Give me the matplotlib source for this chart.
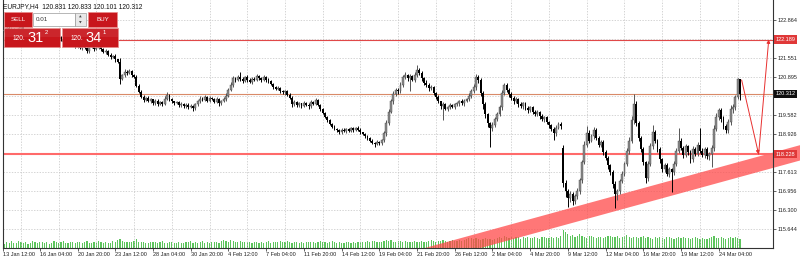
import matplotlib
matplotlib.use('Agg')
import matplotlib.pyplot as plt
from matplotlib.patches import Rectangle, Polygon
from matplotlib.transforms import blended_transform_factory
import numpy as np

plt.rcParams['font.family'] = ['Liberation Sans', 'DejaVu Sans']

# ---- data ----
symbol = 'EURJPY,H4'
last_ohlc = [120.831, 120.833, 120.101, 120.312]

close = [
    122.52, 122.60, 122.48, 122.55, 122.41, 122.47, 122.58, 122.63, 122.50, 122.44,
    122.38, 122.46, 122.35, 122.29, 122.40, 122.33, 122.25, 122.31, 122.22, 122.28,
    122.35, 122.24, 122.18, 122.26, 122.20, 122.12, 122.19, 122.08, 122.15, 122.02,
    121.95, 122.04, 121.90, 121.97, 121.88, 121.79, 121.92, 121.96, 121.85, 121.90,
    121.99, 121.87, 121.75, 121.80, 121.66, 121.58, 121.62, 121.50, 121.42, 120.82,
    120.95, 121.08, 121.02, 121.10, 120.98, 120.90, 120.60, 120.38, 120.22, 120.10,
    120.18, 120.05, 120.12, 119.98, 120.08, 119.95, 120.02, 119.96, 120.15, 120.28,
    120.12, 120.05, 119.98, 120.03, 119.92, 119.97, 119.88, 119.94, 119.85, 119.90,
    119.82, 119.95, 120.05, 120.15, 120.10, 120.20, 120.08, 120.16, 120.12, 120.04,
    120.14, 119.98, 120.06, 120.12, 120.25, 120.45, 120.62, 120.85, 120.78, 120.90,
    120.82, 120.75, 120.88, 120.80, 120.72, 120.84, 120.79, 120.92, 120.85, 120.78,
    120.88, 120.80, 120.74, 120.66, 120.55, 120.49, 120.52, 120.41, 120.36, 120.40,
    120.28, 120.18, 119.95, 120.02, 119.92, 119.98, 119.90, 120.00, 119.94, 119.88,
    120.02, 119.97, 120.10, 119.92, 119.78, 119.65, 119.52, 119.40, 119.28, 119.18,
    119.10, 119.05, 118.98, 119.08, 119.02, 119.10, 119.04, 119.12, 119.06, 119.14,
    119.08, 118.98, 118.92, 118.85, 118.78, 118.70, 118.62, 118.58, 118.66, 118.60,
    118.72, 118.95, 119.30, 119.70, 120.05, 120.30, 120.45, 120.40, 120.62, 120.88,
    120.95, 120.85, 120.92, 120.80, 120.98, 121.15, 121.05, 120.85, 120.70, 120.62,
    120.50, 120.55, 120.35, 120.20, 120.05, 119.88, 119.95, 119.80, 119.85, 119.92,
    119.86, 119.95, 119.98, 120.05, 119.99, 120.08, 120.12, 120.25, 120.40, 120.55,
    120.90, 120.80, 120.35, 119.95, 119.60, 119.30, 119.12, 119.25, 119.45, 119.62,
    119.85, 120.35, 120.62, 120.45, 120.30, 120.18, 120.05, 120.12, 119.95, 119.88,
    119.98, 119.82, 119.75, 119.85, 119.70, 119.62, 119.68, 119.55, 119.45, 119.50,
    119.35, 119.22, 119.10, 118.95, 119.15, 119.28, 119.20, 117.25, 116.95, 116.70,
    116.85, 116.62, 116.78, 116.95, 117.35, 117.95, 118.55, 118.95, 118.70, 118.85,
    119.05, 118.80, 118.55, 118.65, 118.30, 118.10, 117.85, 117.60, 117.20, 116.85,
    116.95, 117.30, 117.55, 117.90, 118.35, 118.70, 119.40, 119.95, 119.30, 118.80,
    118.40, 117.95, 117.40, 117.90, 118.50, 119.00, 118.70, 118.40, 118.05, 117.70,
    117.85, 117.55, 117.70, 117.60, 117.90, 118.35, 118.70, 118.45, 118.20, 118.50,
    118.30, 118.05, 118.40, 118.25, 118.55, 118.35, 118.20, 118.40, 118.15, 118.25,
    118.45, 119.10, 119.50, 119.75, 119.45, 119.20, 119.05, 119.35, 119.80, 119.85,
    120.20, 120.83, 120.312,
]
# opens follow the previous close except at these bars (first bar, weekend gap)
gap_open = {0: 122.50, 237: 118.45}

# wick lengths above / below the body, in hundredths of a yen
hi_wick = [
    5, 8, 4, 6, 3, 7, 9, 5, 4, 6,  3, 5, 7, 4, 6, 3, 5, 8, 4, 6,
    7, 3, 5, 6, 4, 3, 7, 5, 4, 6,  5, 8, 4, 6, 3, 5, 7, 9, 4, 6,
    8, 5, 4, 6, 3, 5, 4, 6, 3, 12,  6, 9, 4, 7, 5, 3, 8, 4, 6, 5,
    4, 7, 5, 3, 6, 4, 5, 3, 8, 10,  4, 6, 3, 5, 4, 6, 3, 5, 4, 7,
    3, 6, 5, 8, 4, 6, 3, 7, 5, 4,  6, 3, 5, 7, 8, 6, 9, 7, 5, 8,
    16, 6, 4, 8, 5, 7, 4, 9, 5, 6,  8, 4, 5, 6, 4, 5, 7, 3, 5, 6,
    4, 5, 6, 8, 4, 5, 3, 6, 4, 5,  7, 5, 8, 4, 3, 5, 4, 3, 5, 4,
    6, 3, 5, 4, 6, 3, 5, 4, 6, 3,  5, 4, 3, 5, 4, 3, 5, 4, 6, 3,
    5, 8, 10, 9, 7, 12, 8, 6, 10, 9,  12, 6, 8, 5, 10, 16, 7, 6, 5, 8,
    6, 8, 5, 4, 6, 3, 7, 5, 4, 6,  5, 4, 6, 5, 7, 4, 6, 8, 9, 12,
    10, 8, 6, 5, 7, 4, 5, 9, 6, 8,  7, 10, 6, 8, 5, 7, 6, 8, 5, 7,
    6, 5, 7, 4, 6, 5, 7, 4, 6, 5,  6, 4, 5, 7, 8, 6, 5, 8, 10, 8,
    9, 7, 8, 10, 6, 9, 12, 25, 10, 8,  12, 9, 7, 8, 6, 9, 7, 5, 8, 10,
    6, 8, 9, 7, 10, 12, 15, 35, 10, 8,  7, 9, 6, 8, 10, 24, 8, 7, 9, 6,
    8, 7, 9, 6, 10, 9, 45, 8, 7, 9,  6, 8, 10, 7, 9, 60, 8, 6, 9, 7,
    10, 12, 15, 9, 8, 10, 7, 9, 12, 10,  9, 3, 0,
]
lo_wick = [
    4, 6, 5, 3, 7, 4, 5, 8, 3, 6,  5, 4, 7, 3, 6, 5, 4, 6, 3, 5,
    7, 4, 6, 3, 5, 8, 4, 6, 3, 5,  6, 4, 5, 7, 3, 8, 5, 4, 6, 3,
    5, 7, 4, 6, 3, 5, 4, 7, 5, 15,  4, 6, 5, 3, 7, 4, 6, 5, 4, 6,
    5, 3, 6, 4, 5, 7, 3, 5, 4, 6,  5, 4, 6, 3, 7, 5, 6, 4, 5, 3,
    10, 5, 4, 6, 3, 5, 4, 6, 3, 5,  4, 8, 5, 3, 6, 4, 5, 7, 5, 4,
    6, 5, 3, 7, 4, 6, 5, 4, 6, 5,  4, 7, 5, 3, 6, 4, 5, 6, 4, 7,
    5, 3, 8, 4, 6, 5, 7, 4, 5, 8,  6, 4, 5, 3, 6, 4, 5, 7, 4, 6,
    5, 4, 7, 5, 3, 6, 4, 5, 7, 4,  5, 6, 4, 7, 5, 6, 4, 10, 5, 6,
    4, 6, 8, 7, 5, 9, 6, 8, 5, 7,  6, 8, 45, 6, 9, 7, 8, 10, 7, 6,
    8, 6, 9, 7, 5, 8, 47, 6, 9, 7,  5, 8, 6, 7, 5, 9, 6, 7, 8, 6,
    9, 12, 10, 15, 12, 14, 64, 10, 8, 9,  7, 9, 8, 6, 10, 7, 8, 6, 9, 7,
    8, 6, 10, 7, 9, 8, 6, 9, 7, 10,  8, 9, 7, 23, 8, 6, 9, 15, 20, 30,
    12, 15, 10, 9, 8, 10, 7, 9, 8, 6,  10, 8, 9, 7, 10, 8, 12, 10, 15, 48,
    20, 10, 8, 9, 7, 10, 8, 12, 9, 10,  8, 10, 15, 9, 7, 10, 8, 9, 12, 10,
    8, 9, 12, 68, 10, 8, 9, 7, 10, 8,  9, 12, 8, 10, 9, 7, 8, 10, 9, 12,
    46, 10, 8, 9, 12, 10, 8, 9, 10, 15,  9, 8, 21,
]
volume = [
    18, 24, 21, 28, 22, 19, 30, 23, 21, 25,  18, 22, 29, 25, 20, 23, 27, 21, 24, 18,
    22, 30, 25, 20, 24, 28, 21, 19, 26, 23,  21, 27, 23, 20, 26, 30, 22, 20, 25, 22,
    28, 24, 19, 26, 22, 21, 30, 25, 33, 38,  29, 26, 23, 27, 24, 31, 36, 27, 24, 26,
    22, 20, 24, 27, 23, 21, 26, 29, 22, 20,  24, 26, 22, 20, 25, 22, 19, 23, 26, 28,
    21, 24, 20, 27, 30, 22, 26, 21, 24, 27,  25, 22, 29, 32, 30, 26, 34, 30, 27, 25,
    28, 24, 26, 23, 26, 22, 24, 27, 21, 24,  22, 26, 29, 22, 26, 24, 27, 30, 23, 26,
    28, 25, 22, 26, 24, 21, 25, 22, 23, 26,  27, 24, 21, 26, 29, 25, 27, 22, 26, 30,
    24, 22, 25, 21, 22, 26, 23, 20, 24, 22,  26, 27, 24, 26, 29, 27, 30, 28, 25, 26,
    24, 29, 32, 30, 34, 27, 26, 31, 28, 25,  29, 26, 23, 27, 30, 26, 24, 28, 25, 27,
    29, 33, 30, 26, 31, 28, 33, 30, 27, 30,  34, 30, 28, 32, 29, 33, 37, 40, 43, 38,
    42, 39, 35, 38, 42, 36, 39, 34, 38, 41,  46, 43, 48, 44, 41, 46, 42, 47, 44, 39,
    44, 41, 46, 43, 40, 45, 42, 38, 44, 47,  43, 41, 46, 42, 44, 40, 49, 75, 66, 58,
    48, 53, 44, 49, 60, 50, 46, 43, 48, 52,  45, 42, 47, 44, 41, 46, 49, 52, 47, 44,
    49, 43, 46, 51, 55, 46, 42, 47, 44, 41,  45, 49, 43, 46, 41, 38, 44, 41, 46, 42,
    39, 44, 47, 41, 37, 42, 46, 41, 44, 40,  43, 38, 42, 45, 41, 37, 43, 39, 36, 41,
    44, 48, 43, 40, 45, 42, 38, 43, 46, 41,  44, 40, 36,
]

price_ticks = [115.644, 116.300, 116.956, 117.613, 118.270, 118.926,
               119.582, 120.239, 120.895, 121.551, 122.208, 122.864]
hidden_ticks = [118.270, 120.239, 122.208]   # covered by the level boxes
time_labels = ['13 Jan 12:00', '16 Jan 04:00', '20 Jan 20:00', '23 Jan 12:00',
               '28 Jan 04:00', '30 Jan 20:00', '4 Feb 12:00', '7 Feb 04:00',
               '11 Feb 20:00', '14 Feb 12:00', '19 Feb 04:00', '21 Feb 20:00',
               '26 Feb 12:00', '2 Mar 04:00', '4 Mar 20:00', '9 Mar 12:00',
               '12 Mar 04:00', '16 Mar 20:00', '19 Mar 12:00', '24 Mar 04:00']
bars_per_label = 16

level_upper = 122.189
level_bid = 120.312
level_lower = 118.228
channel = [(178.4, 114.99), (326.7, 118.30)]   # upper edge of the trend band
channel_width = 0.53
forecast = [(312.7, 120.79), (319.9, 118.228), (324.2, 122.189)]
sell_quote = ('120.', '31', '2')
buy_quote = ('120.', '34', '1')
lot = '0.01'

# ---- build OHLC ----
n = len(close)
idx = np.arange(n)
c = np.array(close)
o = np.r_[c[0], c[:-1]]
for k, v in gap_open.items():
    o[k] = v
hi = np.maximum(o, c) + np.array(hi_wick) / 100.0
lo = np.minimum(o, c) - np.array(lo_wick) / 100.0
o[-1], hi[-1], lo[-1], c[-1] = last_ohlc

# ---- figure ----
fig = plt.figure(figsize=(8, 2.6), dpi=100)
fig.patch.set_facecolor('white')
rect = [3 / 800, 12 / 260, 770 / 800, 248 / 260]
xmin, xmax = -0.6, 326.0
ymin, ymax = 114.988, 123.555

vax = fig.add_axes(rect, zorder=0)
vax.bar(idx, volume, width=0.5, color='#5cc45c', linewidth=0)
vax.set_xlim(xmin, xmax)
vax.set_ylim(0, max(volume) * 248 / 18)
vax.axis('off')

ax = fig.add_axes(rect, zorder=1)
ax.patch.set_visible(False)
ax.set_xlim(xmin, xmax)
ax.set_ylim(ymin, ymax)

# grid
ax.set_yticks(price_ticks)
ax.set_yticklabels(['' if t in hidden_ticks else f'{t:.3f}' for t in price_ticks])
ax.yaxis.tick_right()
ax.tick_params(axis='y', length=2, width=0.5, labelsize=4, pad=1.5, colors='#222')
tick_pos = [max(bars_per_label * k - 1, xmin) for k in range(len(time_labels))]
ax.set_xticks(tick_pos)
ax.set_xticklabels(time_labels)
for lbl in ax.get_xticklabels():
    lbl.set_horizontalalignment('left')
ax.tick_params(axis='x', length=2, width=0.5, labelsize=4, pad=1, colors='#222')
ax.set_xticks([bars_per_label * k + 7 for k in range(len(time_labels))], minor=True)
ax.tick_params(axis='x', which='minor', length=0)
ax.grid(True, axis='y', which='major', color='#c4c4c4', lw=0.5, ls=(0, (2, 2)))
ax.grid(True, axis='x', which='minor', color='#c4c4c4', lw=0.5, ls=(0, (2, 2)))
ax.set_axisbelow(True)
for s in ['left', 'bottom', 'right']:
    ax.spines[s].set_linewidth(0.8)
    ax.spines[s].set_color('#333')
ax.spines['top'].set_visible(False)

# trend band (runs on into the price scale)
(x0, y0), (x1, y1) = channel
slope = (y1 - y0) / (x1 - x0)
xr = xmax + 12.0
band = Polygon([(x0, y0), (xr, y0 + slope * (xr - x0)),
                (xr, y0 + slope * (xr - x0) - channel_width),
                (x0 + channel_width / slope, y0)],
               closed=True, facecolor='#ff4a4a', edgecolor='none', alpha=0.75,
               zorder=1, clip_on=False)
ax.add_patch(band)

# horizontal levels
ax.axhline(level_upper, color='#e04848', lw=0.8, zorder=2)
ax.axhline(level_bid, color='#d98a68', lw=0.8, zorder=2)
ax.axhline(level_lower, color='#ff6a6a', lw=1.5, zorder=2)

# candles
up = c >= o
body_lo = np.minimum(o, c)
body_h = np.maximum(np.abs(c - o), 0.015)
ax.vlines(idx[up], lo[up], hi[up], color='#555555', lw=0.7, zorder=3)
ax.vlines(idx[~up], lo[~up], hi[~up], color='#000000', lw=0.7, zorder=3)
ax.bar(idx[up], body_h[up], bottom=body_lo[up], width=0.8, color='#8c8c8c',
       edgecolor='#444444', linewidth=0.3, zorder=4)
ax.bar(idx[~up], body_h[~up], bottom=body_lo[~up], width=0.8, color='#000000',
       linewidth=0, zorder=4)

# forecast arrows
for p, q in zip(forecast[:-1], forecast[1:]):
    ax.annotate('', xy=q, xytext=p, annotation_clip=False, zorder=5,
                arrowprops=dict(arrowstyle='-|>', color='#e8302f', lw=0.7,
                                mutation_scale=5, shrinkA=0, shrinkB=0))

# level boxes on the price scale
tr = blended_transform_factory(ax.transAxes, ax.transData)
for val, fc in [(level_upper, '#e03838'), (level_bid, '#101010'), (level_lower, '#e03838')]:
    ax.text(1.0035, val, f'{val:.3f}', transform=tr, fontsize=4, color='white',
            va='center', ha='left', clip_on=False, zorder=6,
            bbox=dict(boxstyle='square,pad=0.3', fc=fc, ec='none'))

# ---- overlay: header and one-click trading panel ----
ov = fig.add_axes([0, 0, 1, 1], zorder=5)
ov.set_xlim(0, 800)
ov.set_ylim(260, 0)
ov.axis('off')

ov.text(3, 6.5, f'{symbol}  ' + ' '.join(f'{v:.3f}' for v in last_ohlc),
        fontsize=4.8, va='center', ha='left', color='#111')

red, red_edge = '#c8161c', '#e98a8a'
ov.add_patch(Rectangle((4, 12), 28, 15, fc=red, ec=red_edge, lw=0.5))
ov.text(18, 19.5, 'SELL', fontsize=4.5, color='white', ha='center', va='center')
ov.add_patch(Rectangle((33, 12.5), 42, 13.5, fc='white', ec='#9a9a9a', lw=0.5))
ov.text(36, 19.3, lot, fontsize=4.5, color='#333', ha='left', va='center')
ov.add_patch(Rectangle((75, 12.5), 11, 13.5, fc='#e8e8e8', ec='#9a9a9a', lw=0.5))
ov.text(80.5, 16.2, '▲', fontsize=2.5, color='#444', ha='center', va='center',
        family=['DejaVu Sans'])
ov.text(80.5, 22.6, '▼', fontsize=2.5, color='#444', ha='center', va='center',
        family=['DejaVu Sans'])
ov.add_patch(Rectangle((88, 12), 29, 15, fc=red, ec=red_edge, lw=0.5))
ov.text(102.5, 19.5, 'BUY', fontsize=4.5, color='white', ha='center', va='center')

for x0b, (small, big, sup) in [(4, sell_quote), (62, buy_quote)]:
    ov.add_patch(Rectangle((x0b, 27.5), 56, 19.5, fc=red, ec=red_edge, lw=0.5))
    ov.add_patch(Rectangle((x0b, 27.5), 56, 9, fc='white', ec='none', alpha=0.07))
    ov.text(x0b + 9, 38.5, small, fontsize=4.8, color='white', ha='left', va='center')
    ov.text(x0b + 23, 37.5, big, fontsize=10.5, color='white', ha='left', va='center')
    ov.text(x0b + 41, 32.5, sup, fontsize=4.2, color='white', ha='left', va='center')

fig.savefig('out.png', dpi=100, facecolor='white')
